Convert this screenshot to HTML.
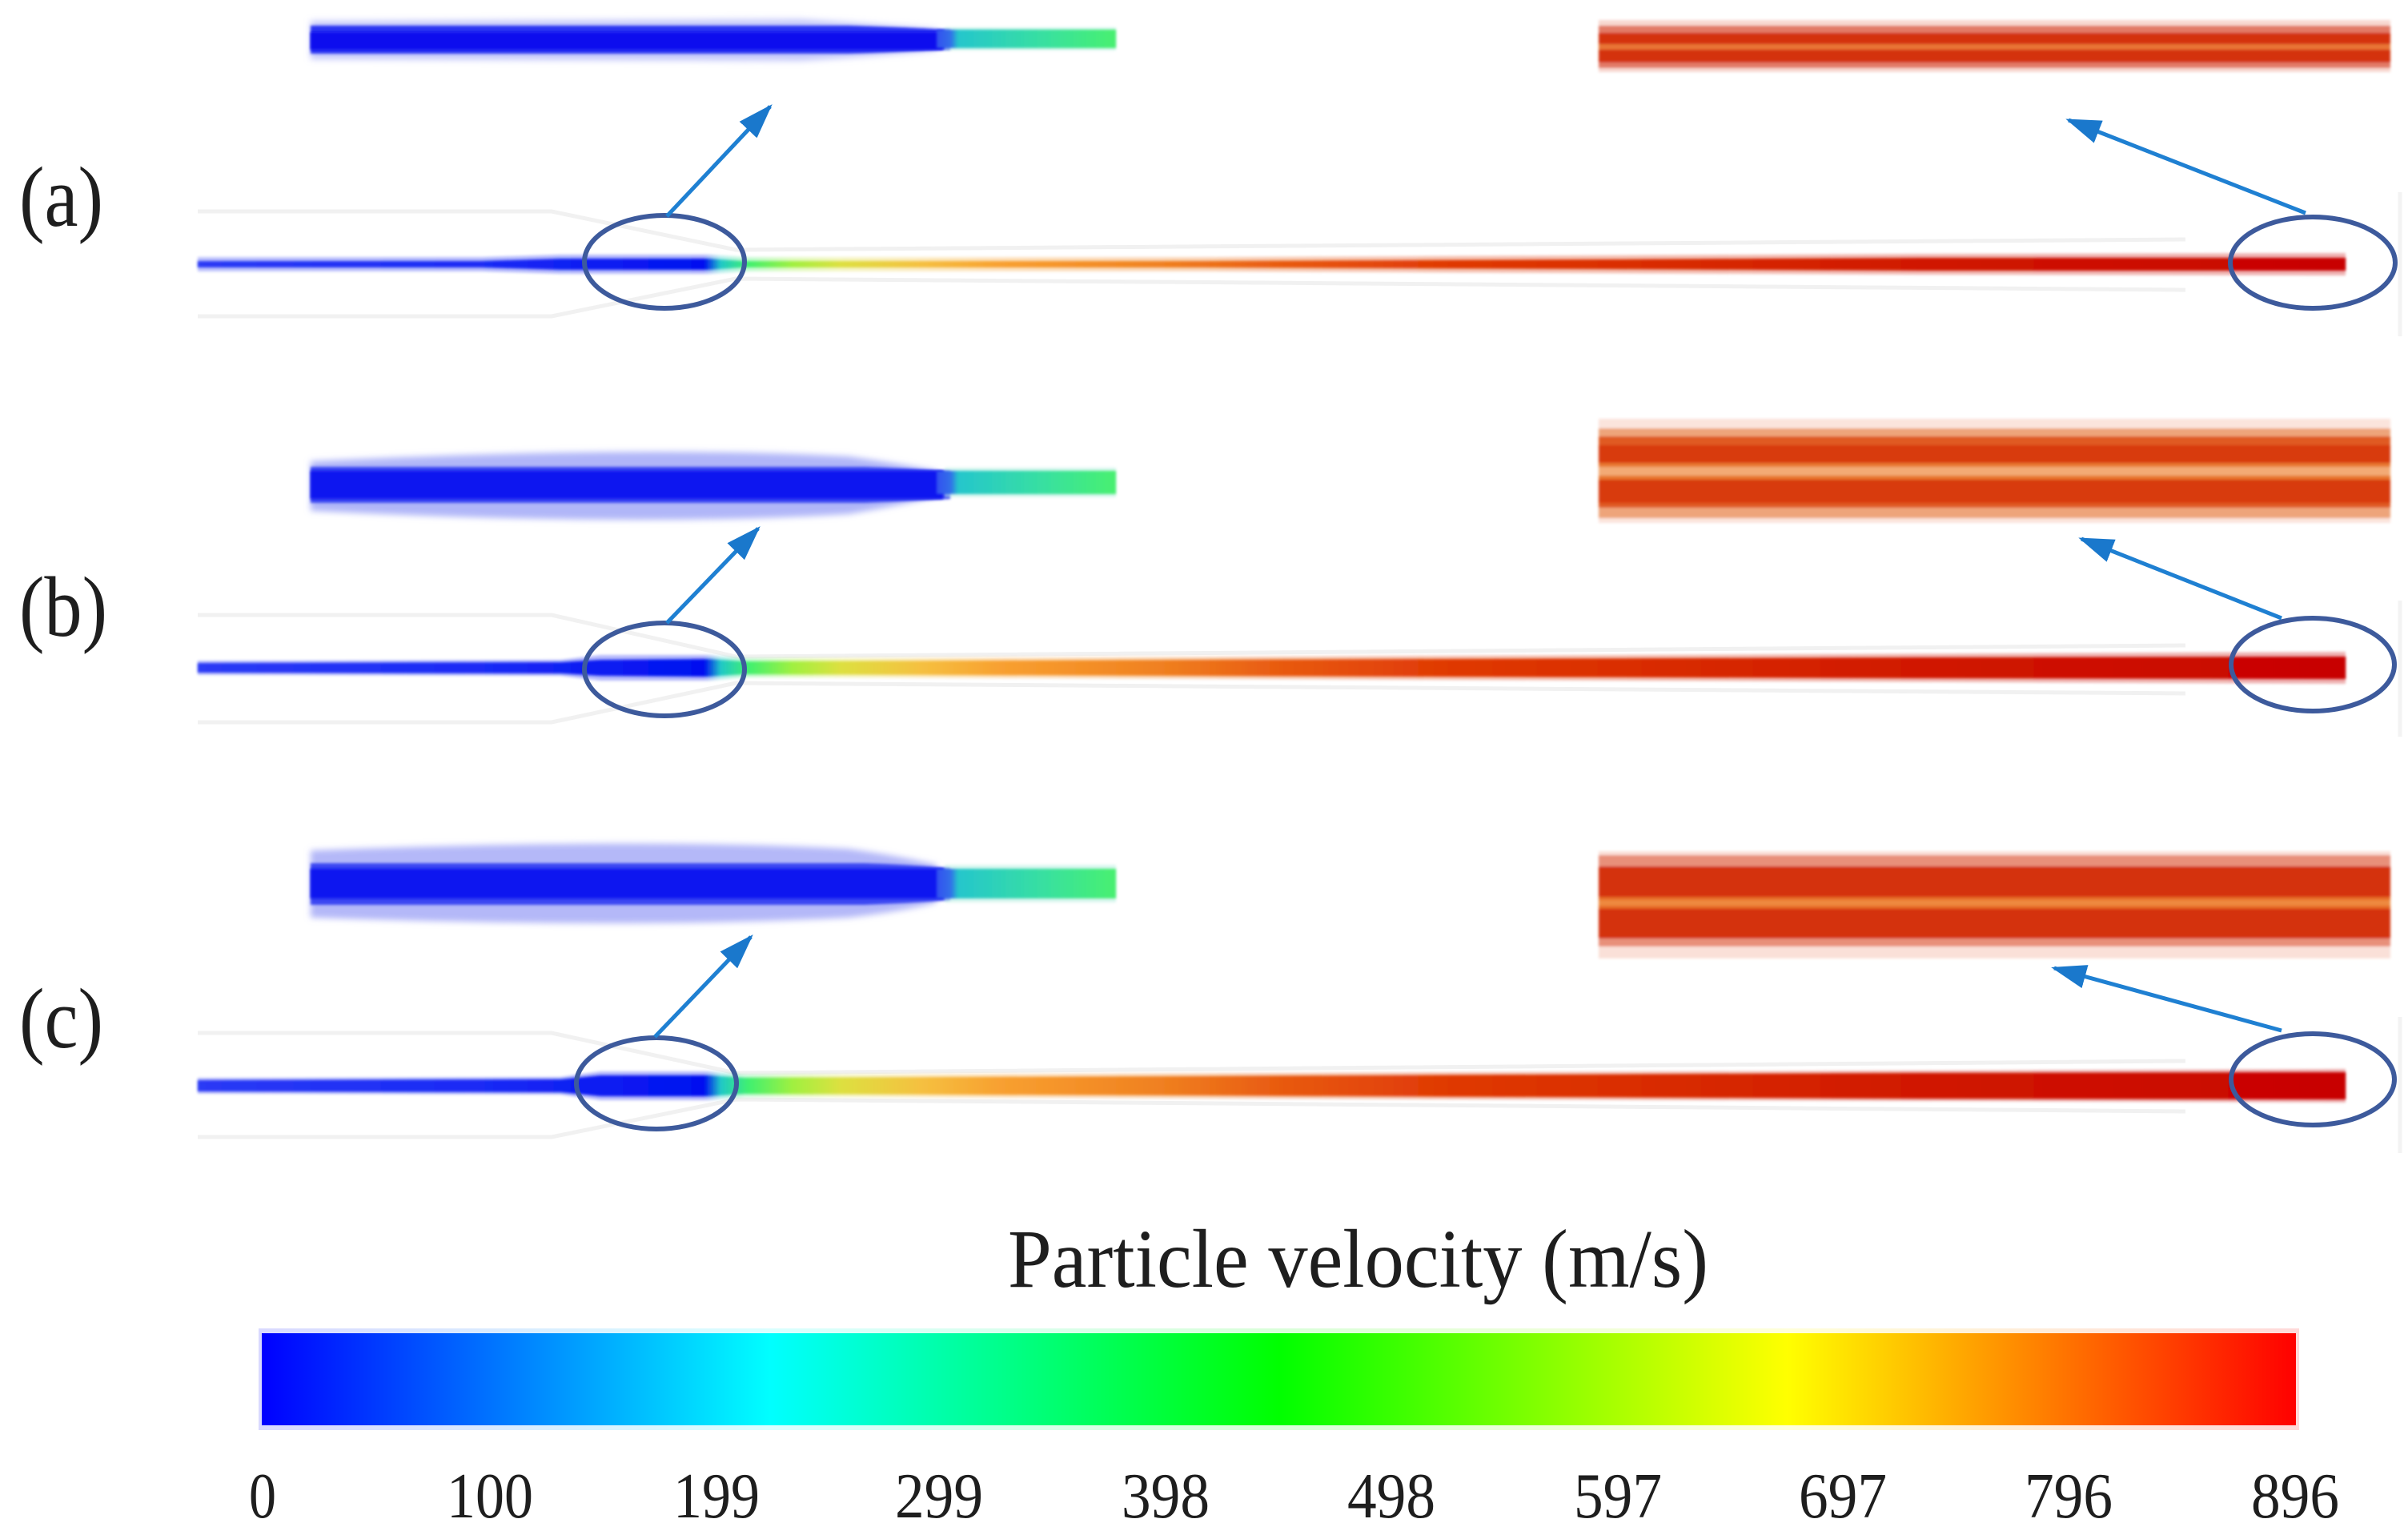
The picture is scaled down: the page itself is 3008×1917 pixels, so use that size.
<!DOCTYPE html>
<html><head><meta charset="utf-8"><style>
html,body{margin:0;padding:0;background:#fff;}
svg{display:block;}
text{font-family:"Liberation Serif","Times New Roman",serif;fill:#1e1e1e;}
</style></head><body>
<svg width="3008" height="1917" viewBox="0 0 3008 1917" xmlns="http://www.w3.org/2000/svg">
<defs>
<filter id="b1" x="-5%" y="-50%" width="110%" height="200%"><feGaussianBlur stdDeviation="1.5"/></filter>
<filter id="b4" x="-5%" y="-100%" width="110%" height="300%"><feGaussianBlur stdDeviation="4"/></filter>
<linearGradient id="jet" gradientUnits="userSpaceOnUse" x1="247" y1="0" x2="2930" y2="0">
<stop offset="0" stop-color="#2a3af5"/>
<stop offset="0.1316" stop-color="#1a2af5"/>
<stop offset="0.2359" stop-color="#0010f0"/>
<stop offset="0.2434" stop-color="#20c8c8"/>
<stop offset="0.2564" stop-color="#40f070"/>
<stop offset="0.2769" stop-color="#a0f040"/>
<stop offset="0.2993" stop-color="#dde040"/>
<stop offset="0.3366" stop-color="#f5c040"/>
<stop offset="0.3738" stop-color="#f8a030"/>
<stop offset="0.4484" stop-color="#f08020"/>
<stop offset="0.5043" stop-color="#e85a10"/>
<stop offset="0.5788" stop-color="#e03a05"/>
<stop offset="0.6906" stop-color="#d82a05"/>
<stop offset="0.8025" stop-color="#d01805"/>
<stop offset="1" stop-color="#c80000"/>
</linearGradient>
<linearGradient id="tg" gradientUnits="userSpaceOnUse" x1="1170" y1="0" x2="1394" y2="0">
<stop offset="0" stop-color="#3050f0"/>
<stop offset="0.08" stop-color="#3070e8"/>
<stop offset="0.12" stop-color="#25c6cc"/>
<stop offset="0.6" stop-color="#38e0a0"/>
<stop offset="1" stop-color="#48f070"/>
</linearGradient>
<linearGradient id="cbar" x1="0" y1="0" x2="1" y2="0">
<stop offset="0" stop-color="#0000ff"/>
<stop offset="0.25" stop-color="#00ffff"/>
<stop offset="0.5" stop-color="#00ff00"/>
<stop offset="0.75" stop-color="#ffff00"/>
<stop offset="1" stop-color="#ff0000"/>
</linearGradient>
<marker id="ah" viewBox="0 0 44 30" refX="40" refY="15" markerWidth="44" markerHeight="30" orient="auto" markerUnits="userSpaceOnUse">
<path d="M0,0 L44,15 L0,30 z" fill="#1a78cc"/>
</marker>
</defs>

<!-- ===== nozzle outlines (faint) ===== -->
<g fill="none" stroke="#f1f1f1" stroke-width="5">
<polyline points="247,264 689,264 919,312 2730,299"/>
<polyline points="247,395 689,395 919,348 2730,362"/>
<polyline points="247,768 689,768 919,820 2730,806"/>
<polyline points="247,902 689,902 919,853 2730,866"/>
<polyline points="247,1290 689,1290 919,1340 2730,1325"/>
<polyline points="247,1420 689,1420 919,1373 2730,1388"/>
</g>
<g stroke="#f3f3f3" stroke-width="5">
<line x1="2998" y1="240" x2="2998" y2="420"/>
<line x1="2998" y1="750" x2="2998" y2="920"/>
<line x1="2998" y1="1270" x2="2998" y2="1440"/>
</g>

<!-- ===== main lines ===== -->
<g fill="url(#jet)">
<polygon opacity="0.3" filter="url(#b1)" points="247,321 600,321 700,318 885,318 930,321 1500,321 2400,317 2930,316 2930,344 2400,343 1500,339 930,339 885,342 700,342 600,339 247,339"/>
<polygon filter="url(#b1)" points="247,326 600,326 700,323 885,323 930,326 1500,326 2000,324 2400,322 2930,322 2930,338 2400,338 2000,336 1500,334 930,334 885,337 700,337 600,334 247,334"/>
<polygon opacity="0.3" filter="url(#b1)" points="247,825 700,824 750,818 885,818 930,822 1500,820 2930,814 2930,854 1500,848 930,846 885,850 750,850 700,844 247,843"/>
<polygon filter="url(#b1)" points="247,828 700,827 750,824 885,823 930,826 1500,824 2400,821 2930,820 2930,848 2400,847 1500,844 930,842 885,845 750,844 700,841 247,840"/>
<polygon opacity="0.3" filter="url(#b1)" points="247,1346 700,1345 750,1338 885,1338 930,1342 1500,1340 2930,1335 2930,1377 1500,1372 930,1370 885,1374 750,1374 700,1367 247,1366"/>
<polygon filter="url(#b1)" points="247,1349 700,1348 750,1343 885,1343 930,1346 1500,1344 2400,1340 2930,1339 2930,1373 2400,1372 1500,1368 930,1366 885,1369 750,1369 700,1364 247,1363"/>
</g>

<!-- ===== blue insets ===== -->
<g>
<path d="M388,26 L1000,24 Q1100,30 1170,36 L1170,63 Q1100,70 1000,76 L388,74 Z" fill="#c4c8fa" filter="url(#b4)"/>
<path d="M388,32 L1060,32 Q1130,34 1187,37 L1187,62 Q1130,65 1060,67 L388,67 Z" fill="#2a36f2" filter="url(#b1)"/>
<rect x="388" y="40" width="790" height="22" fill="#0a10ee" filter="url(#b1)"/>
<rect x="1180" y="34" width="214" height="29" fill="#bff0e4" opacity="0.6" filter="url(#b1)"/>
<rect x="1170" y="37" width="224" height="23" fill="url(#tg)" filter="url(#b1)"/>
</g>
<g>
<path d="M388,576 Q800,556 1060,570 Q1130,580 1170,588 L1170,620 Q1130,630 1060,642 Q800,658 388,638 Z" fill="#b0b6f8" filter="url(#b4)"/>
<path d="M388,583 L1080,583 Q1140,585 1187,588 L1187,623 Q1140,626 1080,628 L388,628 Z" fill="#3a46f2" filter="url(#b1)"/>
<rect x="388" y="588" width="790" height="35" fill="#0a12f0" filter="url(#b1)"/>
<rect x="1180" y="584" width="214" height="37" fill="#bff0e4" opacity="0.6" filter="url(#b1)"/>
<rect x="1170" y="588" width="224" height="29" fill="url(#tg)" filter="url(#b1)"/>
</g>
<g>
<path d="M388,1062 Q800,1046 1060,1060 Q1130,1070 1170,1080 L1170,1127 Q1130,1138 1060,1146 Q800,1160 388,1146 Z" fill="#b4b8f8" filter="url(#b4)"/>
<path d="M388,1078 L1080,1078 Q1140,1080 1187,1084 L1187,1124 Q1140,1128 1080,1130 L388,1130 Z" fill="#3a46f2" filter="url(#b1)"/>
<rect x="388" y="1085" width="790" height="37" fill="#0a14f0" filter="url(#b1)"/>
<rect x="1180" y="1080" width="214" height="47" fill="#bff0e4" opacity="0.6" filter="url(#b1)"/>
<rect x="1170" y="1085" width="224" height="37" fill="url(#tg)" filter="url(#b1)"/>
</g>

<!-- ===== red insets ===== -->
<g filter="url(#b1)">
<rect x="1997" y="25" width="989" height="65" fill="#f8d8d0"/>
<rect x="1997" y="32" width="989" height="53" fill="#e27a66"/>
<rect x="1997" y="41" width="989" height="37" fill="#d4300c"/>
<rect x="1997" y="55" width="989" height="7" fill="#e87535"/>
</g>
<g filter="url(#b1)">
<rect x="1997" y="523" width="989" height="130" fill="#fbe4dc"/>
<rect x="1997" y="535" width="989" height="112" fill="#eea47a"/>
<rect x="1997" y="545" width="989" height="89" fill="#e05a20"/>
<rect x="1997" y="556" width="989" height="72" fill="#d83a10"/>
<rect x="1997" y="578" width="989" height="21" fill="#e8772f"/>
<rect x="1997" y="583" width="989" height="11" fill="#f3aa74"/>
</g>
<g filter="url(#b1)">
<rect x="1997" y="1063" width="989" height="134" fill="#fae0d8"/>
<rect x="1997" y="1068" width="989" height="114" fill="#e8907a"/>
<rect x="1997" y="1082" width="989" height="90" fill="#d4300c"/>
<rect x="1997" y="1120" width="989" height="15" fill="#e66a25"/>
<rect x="1997" y="1124" width="989" height="7" fill="#ee8a40"/>
</g>

<!-- ===== ellipses ===== -->
<g fill="none" stroke="#3d5a9c" stroke-width="6">
<ellipse cx="830" cy="327" rx="100" ry="58"/>
<ellipse cx="2889" cy="328" rx="103" ry="57"/>
<ellipse cx="830" cy="836" rx="100" ry="58"/>
<ellipse cx="2889" cy="830" rx="102" ry="58"/>
<ellipse cx="820" cy="1353" rx="100" ry="57"/>
<ellipse cx="2889" cy="1348" rx="102" ry="57"/>
</g>

<!-- ===== arrows ===== -->
<g stroke="#1f80d2" stroke-width="5" fill="none" marker-end="url(#ah)">
<line x1="833" y1="270" x2="962" y2="133"/>
<line x1="2880" y1="266" x2="2584" y2="150"/>
<line x1="833" y1="778" x2="947" y2="660"/>
<line x1="2850" y1="772" x2="2600" y2="673"/>
<line x1="818" y1="1295" x2="938" y2="1170"/>
<line x1="2850" y1="1287" x2="2566" y2="1209"/>
</g>

<!-- ===== panel labels ===== -->
<text x="24" y="282" font-size="107" textLength="105" lengthAdjust="spacingAndGlyphs">(a)</text>
<text x="24" y="794" font-size="107" textLength="110" lengthAdjust="spacingAndGlyphs">(b)</text>
<text x="24" y="1308" font-size="107" textLength="105" lengthAdjust="spacingAndGlyphs">(c)</text>

<!-- ===== colorbar ===== -->
<text x="1259" y="1607" font-size="104" textLength="875" lengthAdjust="spacingAndGlyphs">Particle velocity (m/s)</text>
<rect x="323" y="1659" width="2549" height="127" fill="url(#cbar)" opacity="0.15"/>
<rect x="327" y="1665" width="2541" height="115" fill="url(#cbar)"/>

<g font-size="81" text-anchor="middle">
<text x="328" y="1895" textLength="34" lengthAdjust="spacingAndGlyphs">0</text>
<text x="612" y="1895" textLength="108" lengthAdjust="spacingAndGlyphs">100</text>
<text x="895" y="1895" textLength="108" lengthAdjust="spacingAndGlyphs">199</text>
<text x="1173" y="1895" textLength="110" lengthAdjust="spacingAndGlyphs">299</text>
<text x="1456" y="1895" textLength="110" lengthAdjust="spacingAndGlyphs">398</text>
<text x="1738" y="1895" textLength="110" lengthAdjust="spacingAndGlyphs">498</text>
<text x="2021" y="1895" textLength="110" lengthAdjust="spacingAndGlyphs">597</text>
<text x="2302" y="1895" textLength="110" lengthAdjust="spacingAndGlyphs">697</text>
<text x="2584" y="1895" textLength="110" lengthAdjust="spacingAndGlyphs">796</text>
<text x="2867" y="1895" textLength="110" lengthAdjust="spacingAndGlyphs">896</text>
</g>
</svg>
</body></html>
